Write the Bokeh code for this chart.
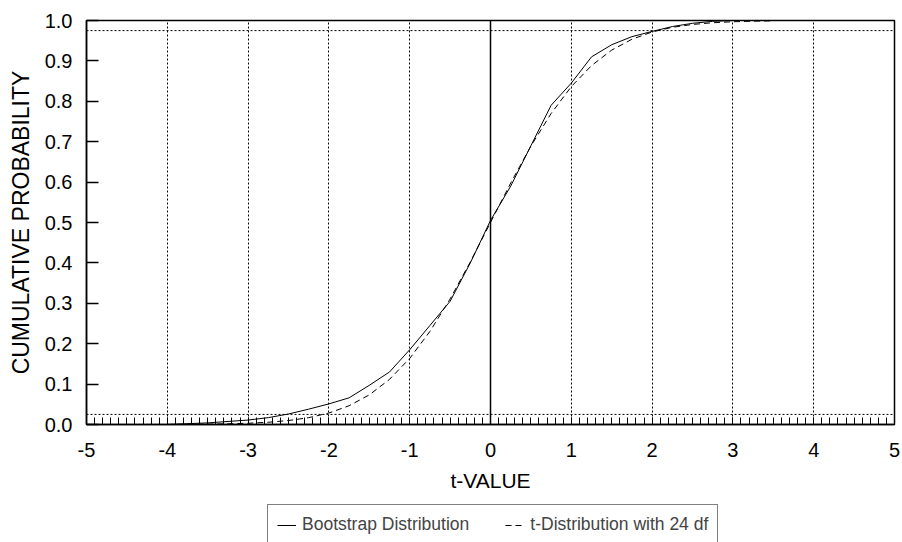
from bokeh.plotting import figure
from bokeh.layouts import column
from bokeh.models import (Span, Legend, LegendItem, SingleIntervalTicker,
                          FixedTicker, PrintfTickFormatter)
from bokeh.embed import file_html
from bokeh.resources import INLINE

# Empirical CDF of the bootstrapped t statistic
boot_t = [-4.0, -3.5, -3.0, -2.75, -2.5, -2.25, -2.0, -1.75, -1.5, -1.25,
          -1.0, -0.75, -0.5, -0.25, 0.0, 0.25, 0.5, 0.75, 1.0, 1.25,
          1.5, 1.75, 2.0, 2.25, 2.5, 2.75, 3.0]
boot_p = [0.0, 0.004, 0.011, 0.017, 0.026, 0.038, 0.051, 0.066, 0.097, 0.13,
          0.185, 0.245, 0.305, 0.40, 0.505, 0.59, 0.69, 0.79, 0.845, 0.91,
          0.94, 0.96, 0.973, 0.985, 0.993, 0.998, 1.0]

# Student t CDF, 24 degrees of freedom
t24_t = [-4.0, -3.75, -3.5, -3.25, -3.0, -2.75, -2.5, -2.25, -2.0, -1.75,
         -1.5, -1.25, -1.0, -0.75, -0.5, -0.25, 0.0, 0.25, 0.5, 0.75,
         1.0, 1.25, 1.5, 1.75, 2.0, 2.25, 2.5, 2.75, 3.0, 3.25, 3.5]
t24_p = [0.00026, 0.00049, 0.00091, 0.0017, 0.00308, 0.00556, 0.0098, 0.01692,
         0.02845, 0.04644, 0.07332, 0.11167, 0.16363, 0.23028, 0.31082, 0.40236,
         0.5, 0.59764, 0.68918, 0.76972, 0.83637, 0.88833, 0.92668, 0.95356,
         0.97155, 0.98308, 0.9902, 0.99444, 0.99692, 0.9983, 0.99909]

series_labels = ["Bootstrap Distribution", "t-Distribution with 24 df"]
y_ticks = [0.0, 0.1, 0.2, 0.3, 0.4, 0.5, 0.6, 0.7, 0.8, 0.9, 1.0]
crit_levels = [0.025, 0.975]

FONT = "Liberation Sans"
DASH = "6 4"

p = figure(width=902, height=495, x_range=(-5, 5), y_range=(0, 1),
           output_backend="svg", toolbar_location=None,
           min_border_left=86, min_border_right=8, min_border_top=20,
           min_border_bottom=71, background_fill_color="white",
           border_fill_color="white")
p.outline_line_color = "black"
p.outline_line_width = 1.5

# x axis: major tick every unit, minor tick every 0.1, drawn inward
p.xaxis.ticker = SingleIntervalTicker(interval=1, num_minor_ticks=10)
p.xaxis.formatter = PrintfTickFormatter(format="%d")
p.xaxis.major_tick_in = 7
p.xaxis.major_tick_out = 0
p.xaxis.minor_tick_in = 7
p.xaxis.minor_tick_out = 0
p.xaxis.major_tick_line_color = "black"
p.xaxis.minor_tick_line_color = "black"
p.xaxis.axis_line_width = 1.5
p.xaxis.major_label_standoff = 18
p.xaxis.axis_label = "t-VALUE"
p.xaxis.axis_label_standoff = 9
p.xaxis.axis_label_text_font_size = "21px"

# y axis
p.yaxis.ticker = FixedTicker(ticks=y_ticks)
p.yaxis.formatter = PrintfTickFormatter(format="%.1f")
p.yaxis.major_tick_in = 12
p.yaxis.major_tick_out = 0
p.yaxis.minor_tick_line_color = None
p.yaxis.major_tick_line_width = 1.5
p.yaxis.axis_line_width = 1.5
p.yaxis.major_label_standoff = 14
p.yaxis.axis_label = "CUMULATIVE PROBABILITY"
p.yaxis.axis_label_standoff = 8
p.yaxis.axis_label_text_font_size = "23px"

for ax in (p.xaxis, p.yaxis):
    ax.axis_line_color = "black"
    ax.major_label_text_font = FONT
    ax.major_label_text_font_size = "20px"
    ax.major_label_text_color = "black"
    ax.axis_label_text_font = FONT
    ax.axis_label_text_font_style = "normal"
    ax.axis_label_text_color = "black"

# dotted vertical grid at each integer t, no horizontal grid
p.xgrid.ticker = SingleIntervalTicker(interval=1)
p.xgrid.grid_line_color = "black"
p.xgrid.grid_line_dash = "2 2"
p.xgrid.grid_line_width = 1
p.ygrid.grid_line_color = None

# 2.5% / 97.5% reference levels and the t = 0 line
for lvl in crit_levels:
    p.add_layout(Span(location=lvl, dimension="width", line_color="black",
                      line_dash="2 2", line_width=1))
p.add_layout(Span(location=0, dimension="height", line_color="black",
                  line_width=1.5))

p.line(boot_t, boot_p, line_color="black", line_width=1)
p.line(t24_t, t24_p, line_color="black", line_width=1, line_dash=DASH)

# Legend strip underneath the chart (its frame lines up with the chart's)
lg = figure(width=902, height=47, x_range=(0, 1), y_range=(0, 1),
            output_backend="svg", toolbar_location=None,
            x_axis_type=None, y_axis_type=None,
            min_border=0, outline_line_color=None,
            background_fill_color="white", border_fill_color="white")
lg.grid.grid_line_color = None
# single-point keys: draw nothing themselves, only their legend glyphs
k_boot = lg.line([-1], [-1], line_color="black", line_width=1)
k_t24 = lg.line([-1], [-1], line_color="black", line_width=1, line_dash=DASH)

legend = Legend(items=[LegendItem(label=series_labels[0], renderers=[k_boot]),
                       LegendItem(label=series_labels[1], renderers=[k_t24])],
                orientation="horizontal", location=(181, -3),
                border_line_color="black", border_line_width=1.5,
                background_fill_color="white", background_fill_alpha=1,
                label_text_font=FONT, label_text_font_size="17.5px",
                glyph_width=19, label_standoff=6, spacing=36,
                padding=9, margin=0)
lg.add_layout(legend, "center")

open("out.html", "w").write(file_html(column(p, lg, spacing=0), INLINE))
